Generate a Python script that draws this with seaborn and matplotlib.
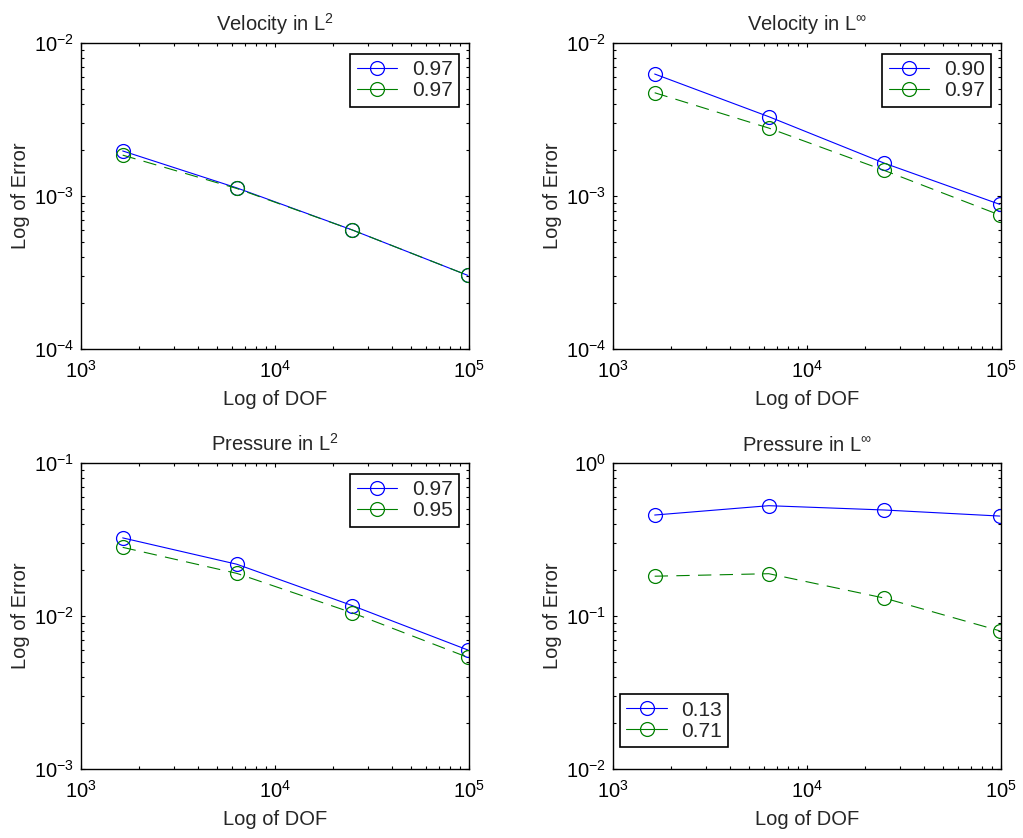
import numpy as np
import pandas as pd
import matplotlib
matplotlib.use("Agg")
import matplotlib.pyplot as plt
from matplotlib.ticker import LogLocator, NullFormatter
import seaborn as sns

# ---- data ----
dof = [1640, 6350, 25000, 98500]

vel_l2_a = [1.97e-3, 1.13e-3, 6.0e-4, 3.03e-4]
vel_l2_b = [1.85e-3, 1.12e-3, 6.0e-4, 3.03e-4]
vel_linf_a = [6.27e-3, 3.30e-3, 1.64e-3, 8.82e-4]
vel_linf_b = [4.73e-3, 2.78e-3, 1.47e-3, 7.51e-4]
pre_l2_a = [3.24e-2, 2.18e-2, 1.17e-2, 6.0e-3]
pre_l2_b = [2.81e-2, 1.90e-2, 1.05e-2, 5.37e-3]
pre_linf_a = [0.457, 0.526, 0.493, 0.450]
pre_linf_b = [0.182, 0.189, 0.131, 0.080]

titles = ["Velocity in L$^2$", "Velocity in L$^{\\infty}$",
          "Pressure in L$^2$", "Pressure in L$^{\\infty}$"]
rates_a = ["0.97", "0.90", "0.97", "0.13"]
rates_b = ["0.97", "0.97", "0.95", "0.71"]
ylims = [(1e-4, 1e-2), (1e-4, 1e-2), (1e-3, 1e-1), (1e-2, 1e0)]
legend_locs = ["upper right", "upper right", "upper right", "lower left"]
legend_anchors = [(0.974, 0.964), (0.974, 0.964), (0.974, 0.964), (0.018, 0.072)]

series_a = [vel_l2_a, vel_linf_a, pre_l2_a, pre_linf_a]
series_b = [vel_l2_b, vel_linf_b, pre_l2_b, pre_linf_b]

# ---- style ----
sns.set_style("ticks")
plt.rcParams["font.family"] = ["Liberation Sans", "DejaVu Sans"]
plt.rcParams["mathtext.fontset"] = "custom"
plt.rcParams["mathtext.rm"] = "Liberation Sans"
plt.rcParams["mathtext.it"] = "Liberation Sans:italic"
plt.rcParams["mathtext.bf"] = "Liberation Sans:bold"
plt.rcParams["axes.linewidth"] = 1.0
plt.rcParams["axes.edgecolor"] = "black"

FS = 14.5

fig = plt.figure(figsize=(10.23, 8.38), dpi=100)
W, H = 1023, 838
lefts = [81, 613]
tops = [43, 463]
aw, ah = 388, 306

blue = (0, 0, 1)
green = (0, 0.5, 0)

for i in range(4):
    r, c = divmod(i, 2)
    ax = fig.add_axes([lefts[c] / W, 1 - (tops[r] + ah) / H, aw / W, ah / H])
    ax.set_xscale("log")
    ax.set_yscale("log")
    dfa = pd.DataFrame({"DOF": dof, "err": series_a[i]})
    dfb = pd.DataFrame({"DOF": dof, "err": series_b[i]})
    sns.lineplot(data=dfa, x="DOF", y="err", ax=ax, color=blue, lw=0.8,
                 marker="o", markersize=10, markerfacecolor="none",
                 markeredgecolor=blue, markeredgewidth=0.9, label=rates_a[i])
    sns.lineplot(data=dfb, x="DOF", y="err", ax=ax, color=green, lw=0.8,
                 linestyle=(0, (12, 7.5)),
                 marker="o", markersize=10, markerfacecolor="none",
                 markeredgecolor=green, markeredgewidth=0.9, label=rates_b[i])
    ax.set_xlim(1e3, 1e5)
    ax.set_ylim(*ylims[i])
    ax.xaxis.set_major_locator(LogLocator(base=10, numticks=10))
    ax.yaxis.set_major_locator(LogLocator(base=10, numticks=10))
    ax.xaxis.set_minor_locator(LogLocator(base=10, subs=np.arange(2, 10), numticks=20))
    ax.yaxis.set_minor_locator(LogLocator(base=10, subs=np.arange(2, 10), numticks=20))
    ax.xaxis.set_minor_formatter(NullFormatter())
    ax.yaxis.set_minor_formatter(NullFormatter())
    ax.tick_params(which="both", direction="in", top=True, right=True,
                   labelsize=FS, width=0.8, colors="black")
    ax.tick_params(which="major", length=3)
    ax.tick_params(axis="x", which="major", pad=8)
    ax.tick_params(axis="y", which="major", pad=5)
    ax.tick_params(which="minor", length=2)
    ax.set_title(titles[i], fontsize=FS, pad=9)
    ax.set_xlabel("Log of DOF", fontsize=FS, labelpad=6)
    ax.set_ylabel("Log of Error", fontsize=FS, labelpad=3)
    for sp in ax.spines.values():
        sp.set_visible(True)
        sp.set_linewidth(1.0)
    leg = ax.legend(loc=legend_locs[i], bbox_to_anchor=legend_anchors[i],
                    fontsize=15, frameon=True, fancybox=False,
                    edgecolor="black", framealpha=1, handlelength=1.95,
                    handletextpad=0.7, borderpad=0.3, labelspacing=0.1,
                    borderaxespad=0.0)
    leg.get_frame().set_linewidth(1.2)
    for ln in leg.get_lines():
        ln.set_linestyle("-")

fig.savefig("out.png", dpi=100, facecolor="white")
